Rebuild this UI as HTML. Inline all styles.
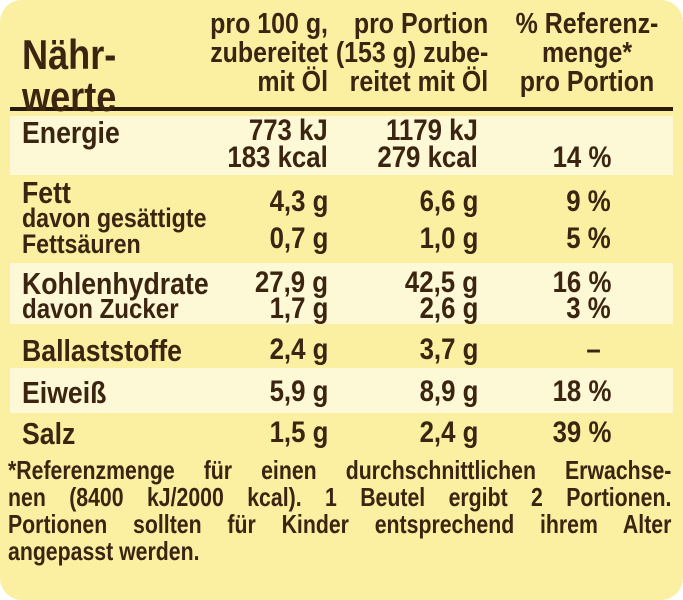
<!DOCTYPE html>
<html><head><meta charset="utf-8"><style>
html,body{margin:0;padding:0;background:#fff}
#p{position:relative;width:683px;height:600px;overflow:hidden;background:#fbf0a2;border-radius:22px;font-family:"Liberation Sans",sans-serif;font-weight:bold;color:#3b2410}
.s{position:absolute;left:10px;width:663px;background:#fdf8d6}
.t{position:absolute;white-space:nowrap;line-height:1;transform:scaleX(0.86)}
.l{transform-origin:left center}
.r{transform-origin:right center}
.c{transform-origin:center center}
.f{position:absolute;left:8px;width:811px;font-size:26px;line-height:27px;transform:scaleX(0.818);transform-origin:left top;text-align:justify;text-align-last:justify}
</style></head><body>
<div id="p">
<div class="s" style="top:116px;height:59px"></div>
<div class="s" style="top:263px;height:61px"></div>
<div class="s" style="top:368px;height:45px"></div>
<div style="position:absolute;left:10px;width:663px;top:107px;height:4px;background:#2a1a0c"></div>

<div class="t l" style="left:22px;top:34px;font-size:42px;line-height:42px">Nähr-<br>werte</div>
<div class="t r" style="right:355px;top:10px;font-size:29px;line-height:29px;text-align:right">pro 100 g,<br>zubereitet<br>mit Öl</div>
<div class="t r" style="right:195px;top:10px;font-size:29px;line-height:29px;text-align:right">pro Portion<br>(153 g) zube-<br>reitet mit Öl</div>
<div class="t c" style="left:477px;width:220px;top:10px;font-size:29px;line-height:29px;text-align:center">% Referenz-<br>menge*<br>pro Portion</div>

<div class="t l" style="left:22px;top:117px;font-size:31px">Energie</div>
<div class="t r" style="right:355px;top:116px;font-size:30px">773 kJ</div>
<div class="t r" style="right:205px;top:116px;font-size:30px">1179 kJ</div>
<div class="t r" style="right:355px;top:143px;font-size:30px">183 kcal</div>
<div class="t r" style="right:205px;top:143px;font-size:30px">279 kcal</div>
<div class="t r" style="right:72px;top:143px;font-size:30px">14 %</div>

<div class="t l" style="left:22px;top:177px;font-size:31px">Fett</div>
<div class="t l" style="left:22px;top:205px;font-size:27px;line-height:26px">davon gesättigte<br>Fettsäuren</div>
<div class="t r" style="right:355px;top:187px;font-size:30px">4,3 g</div>
<div class="t r" style="right:205px;top:187px;font-size:30px">6,6 g</div>
<div class="t r" style="right:72px;top:187px;font-size:30px">9 %</div>
<div class="t r" style="right:355px;top:224px;font-size:30px">0,7 g</div>
<div class="t r" style="right:205px;top:224px;font-size:30px">1,0 g</div>
<div class="t r" style="right:72px;top:224px;font-size:30px">5 %</div>

<div class="t l" style="left:22px;top:268px;font-size:31px">Kohlenhydrate</div>
<div class="t l" style="left:22px;top:295px;font-size:28px">davon Zucker</div>
<div class="t r" style="right:355px;top:268px;font-size:30px">27,9 g</div>
<div class="t r" style="right:205px;top:268px;font-size:30px">42,5 g</div>
<div class="t r" style="right:72px;top:268px;font-size:30px">16 %</div>
<div class="t r" style="right:355px;top:294px;font-size:30px">1,7 g</div>
<div class="t r" style="right:205px;top:294px;font-size:30px">2,6 g</div>
<div class="t r" style="right:72px;top:294px;font-size:30px">3 %</div>

<div class="t l" style="left:22px;top:335px;font-size:31px">Ballaststoffe</div>
<div class="t r" style="right:355px;top:335px;font-size:30px">2,4 g</div>
<div class="t r" style="right:205px;top:335px;font-size:30px">3,7 g</div>
<div class="t r" style="right:82px;top:335px;font-size:30px">–</div>

<div class="t l" style="left:22px;top:377px;font-size:31px">Eiweiß</div>
<div class="t r" style="right:355px;top:377px;font-size:30px">5,9 g</div>
<div class="t r" style="right:205px;top:377px;font-size:30px">8,9 g</div>
<div class="t r" style="right:72px;top:377px;font-size:30px">18 %</div>

<div class="t l" style="left:22px;top:418px;font-size:31px">Salz</div>
<div class="t r" style="right:355px;top:418px;font-size:30px">1,5 g</div>
<div class="t r" style="right:205px;top:418px;font-size:30px">2,4 g</div>
<div class="t r" style="right:72px;top:418px;font-size:30px">39 %</div>

<div class="f" style="top:457px">
<div>*Referenzmenge für einen durchschnittlichen Erwachse-</div>
<div>nen (8400 kJ/2000 kcal). 1 Beutel ergibt 2 Portionen.</div>
<div>Portionen sollten für Kinder entsprechend ihrem Alter</div>
<div style="text-align-last:left">angepasst werden.</div>
</div>
</div>
</body></html>
